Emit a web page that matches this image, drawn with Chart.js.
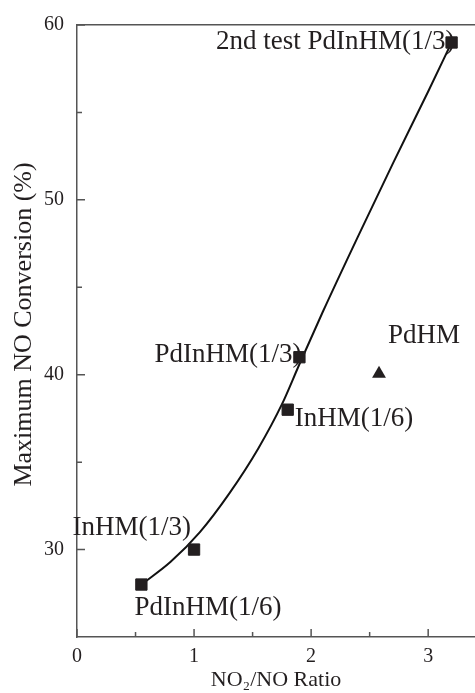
<!DOCTYPE html>
<html>
<head>
<meta charset="utf-8">
<script src="https://cdn.jsdelivr.net/npm/chart.js@4/dist/chart.umd.min.js"></script>
<style>
  html, body { margin: 0; padding: 0; background: #fff; }
  #noChart { display: block; }
</style>
</head>
<body>
<canvas id="noChart" width="475" height="693"></canvas>
<script>
// samples on the fitted curve
const sampleNames = ["PdInHM(1/6)", "InHM(1/3)", "InHM(1/6)", "PdInHM(1/3)", "2nd test PdInHM(1/3)"];
const sampleRatio = [0.55, 1.0, 1.8, 1.9, 3.2];
const sampleConversion = [28, 30, 38, 41, 59];

// PdHM sample (triangle)
const pdhmNames = ["PdHM"];
const pdhmRatio = [2.58];
const pdhmConversion = [40.05];

// trend curve
const curveRatio = [0.55, 0.8, 1.05, 1.3, 1.55, 1.75, 1.9, 2.1, 2.4, 2.7, 3.0, 3.2];
const curveConversion = [28.0, 29.3, 31.0, 33.2, 35.8, 38.3, 40.6, 43.6, 47.9, 52.1, 56.2, 59.0];

// axes
const xMajorTicks = [0, 1, 2, 3];
const xMinorTicks = [0.5, 1.5, 2.5];
const yMajorTicks = [30, 40, 50, 60];
const yMinorTicks = [35, 45, 55];

const textColor = "#231f20";
const axisColor = "#555555";
const serif = "'Liberation Serif', 'Times New Roman', serif";

const toPoints = (xs, ys) => xs.map((x, i) => ({ x, y: ys[i] }));

// label offsets relative to the marker (px): dx, dy, align
const labelPlacement = {
    "PdInHM(1/6)": [-7, 30, "left"],
    "InHM(1/3)": [-3, -15, "right"],
    "InHM(1/6)": [7, 16, "left"],
    "PdInHM(1/3)": [2, 5, "right"],
    "2nd test PdInHM(1/3)": [3, 7, "right"],
    "PdHM": [9, -31, "left"],
};

const pointLabels = {
    id: "pointLabels",
    beforeDatasetsDraw(chart) {
        const { ctx, scales } = chart;
        const items = [];
        sampleNames.forEach((n, i) => items.push([n, sampleRatio[i], sampleConversion[i]]));
        pdhmNames.forEach((n, i) => items.push([n, pdhmRatio[i], pdhmConversion[i]]));
        ctx.save();
        ctx.font = "27px " + serif;
        ctx.fillStyle = textColor;
        ctx.textBaseline = "alphabetic";
        items.forEach(([name, x, y]) => {
            const p = labelPlacement[name];
            ctx.textAlign = p[2];
            ctx.fillText(name, scales.x.getPixelForValue(x) + p[0], scales.y.getPixelForValue(y) + p[1]);
        });
        ctx.restore();
    },
};

// inward tick marks
const innerTicks = {
    id: "innerTicks",
    afterDraw(chart) {
        const { ctx, scales, chartArea } = chart;
        ctx.save();
        ctx.strokeStyle = axisColor;
        ctx.lineWidth = 1.5;
        ctx.beginPath();
        const xt = (vals, len) => vals.forEach((v) => {
            const px = scales.x.getPixelForValue(v);
            ctx.moveTo(px, chartArea.bottom);
            ctx.lineTo(px, chartArea.bottom - len);
        });
        const yt = (vals, len) => vals.forEach((v) => {
            const py = scales.y.getPixelForValue(v);
            ctx.moveTo(chartArea.left, py);
            ctx.lineTo(chartArea.left + len, py);
        });
        xt(xMajorTicks, 8);
        xt(xMinorTicks, 5);
        yt(yMajorTicks, 8);
        yt(yMinorTicks, 5);
        ctx.stroke();
        ctx.restore();
    },
};

new Chart(document.getElementById("noChart"), {
    type: "scatter",
    data: {
        datasets: [
            {
                label: "Samples",
                data: toPoints(sampleRatio, sampleConversion),
                pointStyle: "rect",
                pointRadius: 8,
                backgroundColor: textColor,
                borderColor: textColor,
                borderWidth: 1,
            },
            {
                label: "PdHM",
                data: toPoints(pdhmRatio, pdhmConversion),
                pointStyle: "triangle",
                pointRadius: 8,
                backgroundColor: textColor,
                borderColor: textColor,
                borderWidth: 0,
            },
            {
                label: "Fit",
                data: toPoints(curveRatio, curveConversion),
                showLine: true,
                pointRadius: 0,
                borderColor: "#111",
                borderWidth: 2,
                cubicInterpolationMode: "monotone",
            },
        ],
    },
    options: {
        responsive: false,
        animation: false,
        layout: { padding: 0, autoPadding: false },
        plugins: { legend: { display: false }, tooltip: { enabled: false } },
        scales: {
            x: {
                type: "linear",
                position: "bottom",
                min: 0,
                max: 3.4,
                afterBuildTicks: (s) => { s.ticks = xMajorTicks.map((v) => ({ value: v })); },
                afterFit: (s) => { s.height = 56; s.paddingLeft = 0; s.paddingRight = 0; },
                grid: { display: false, drawTicks: false },
                border: { color: axisColor, width: 1.5 },
                ticks: { color: textColor, padding: 8, font: { family: serif, size: 20 } },
                title: {
                    display: true,
                    text: "NO\u2082/NO Ratio",
                    color: textColor,
                    padding: 0,
                    font: { family: serif, size: 22, lineHeight: 1.2 },
                },
            },
            x2: {
                type: "linear",
                position: "top",
                min: 0,
                max: 3.4,
                afterFit: (s) => { s.height = 19; s.paddingLeft = 0; s.paddingRight = 0; },
                grid: { display: false, drawTicks: false },
                border: { color: axisColor, width: 1.5 },
                ticks: { display: false },
            },
            y: {
                min: 25,
                max: 60,
                afterBuildTicks: (s) => { s.ticks = yMajorTicks.map((v) => ({ value: v })); },
                afterFit: (s) => { s.width = 77; },
                grid: { display: false, drawTicks: false },
                border: { color: axisColor, width: 1.5 },
                ticks: { color: textColor, padding: 13, font: { family: serif, size: 20 } },
                title: {
                    display: true,
                    text: "\u2002Maximum NO Conversion (%)",
                    color: textColor,
                    padding: { top: 9, bottom: 0 },
                    font: { family: serif, size: 26, lineHeight: 1.2 },
                },
            },
        },
    },
    plugins: [pointLabels, innerTicks],
});
</script>
</body>
</html>
